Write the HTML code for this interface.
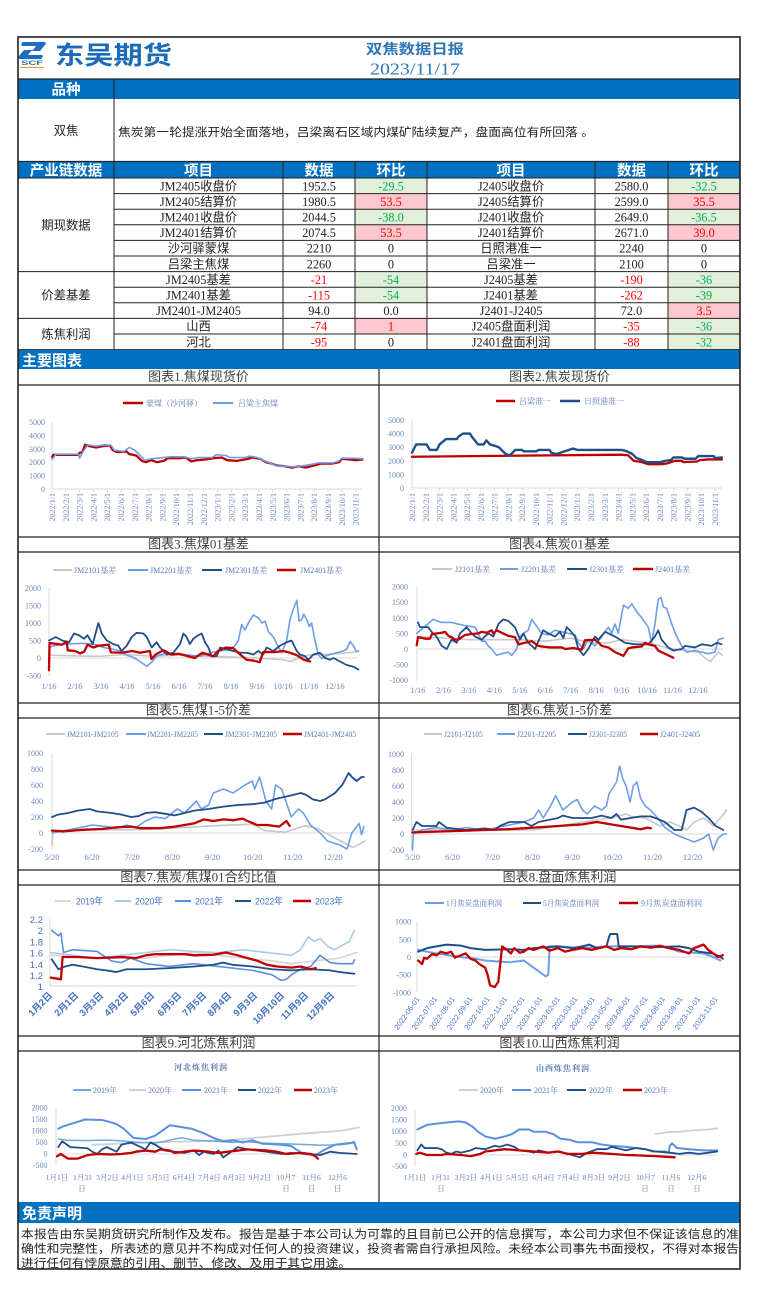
<!DOCTYPE html>
<html><head><meta charset="utf-8"><style>
html,body{margin:0;padding:0;background:#fff;}
body{width:757px;height:1303px;overflow:hidden;}
svg{display:block;}
.s{fill:none;vector-effect:non-scaling-stroke;stroke-linejoin:round;stroke-linecap:round;}
.r{stroke:#C00000;stroke-width:2.3}
.d{stroke:#1F4E89;stroke-width:1.8}
.l{stroke:#6D9EEB;stroke-width:1.6}
.g{stroke:#C8C8C8;stroke-width:1.6}
.p{stroke:#A9CBEB;stroke-width:1.6}
.m{stroke:#5B8FE0;stroke-width:1.6}
.t{font-family:"Liberation Serif","Noto Sans CJK SC",sans-serif;fill:#222;font-size:12.3px;text-anchor:middle}
.h{font-family:"Liberation Sans","Noto Sans CJK SC",sans-serif;fill:#fff;font-size:14.5px;font-weight:bold;text-anchor:middle}
.hl{font-family:"Liberation Sans","Noto Sans CJK SC",sans-serif;fill:#fff;font-size:15px;font-weight:bold}
.ax{font-family:"Liberation Serif",serif;font-size:8px;fill:#6A88BE}
.ae{font-family:"Liberation Serif",serif;font-size:8px;fill:#6A88BE;text-anchor:end}
.am{font-family:"Liberation Serif",serif;font-size:8.5px;fill:#6A88BE;text-anchor:middle}
.lg{font-family:"Liberation Serif","Noto Serif CJK SC",serif;font-size:8px;fill:#5A7BB5}
.lm{font-family:"Liberation Serif","Noto Serif CJK SC",serif;font-size:7.5px;fill:#5A7BB5;text-anchor:middle}
.ls{font-family:"Liberation Sans","Noto Sans CJK SC",sans-serif;font-size:9.5px;fill:#4472C4}
.ct{font-family:"Liberation Serif","Noto Sans CJK SC",sans-serif;font-size:13px;fill:#404040;text-anchor:middle}
.gr{fill:#00B050}.rd{fill:#FF0000}
</style></head><body>
<svg width="757" height="1303" viewBox="0 0 757 1303" xmlns="http://www.w3.org/2000/svg">
<rect x="0" y="0" width="757" height="1303" fill="#fff"/>

<!-- Header -->
<path d="M22 42 h22 q3 0 1 3 l-5 6 h-9 l-3 4 h13 q3 0 1 3 l-1 1 h-21 q-3 0 -1 -3 l5 -6 h9 l3 -4 h-13 q-3 0 -1 -3z" fill="#1E6FC2"/>
<text x="21" y="65" font-family="Liberation Sans,sans-serif" font-size="6.5" font-weight="bold" fill="#1E6FC2" textLength="22" lengthAdjust="spacingAndGlyphs">SCF</text>
<line x1="20" y1="67.5" x2="44" y2="67.5" stroke="#F0A030" stroke-width="1.3"/>
<text x="55" y="64" font-family="'Liberation Sans','Noto Sans CJK SC',sans-serif" font-size="25" font-weight="bold" fill="#1A6BB8" textLength="117" lengthAdjust="spacingAndGlyphs">东吴期货</text>
<text x="415" y="54" font-family="'Liberation Sans','Noto Sans CJK SC',sans-serif" font-size="14" font-weight="bold" fill="#2E75B6" text-anchor="middle" textLength="98" lengthAdjust="spacingAndGlyphs">双焦数据日报</text>
<text x="415" y="74.5" font-family="'Liberation Serif',serif" font-size="17" fill="#2E75B6" text-anchor="middle" textLength="90" lengthAdjust="spacingAndGlyphs">2023/11/17</text>

<rect x="18" y="79" width="722" height="20" fill="#0070C0"/>
<line x1="114" y1="79" x2="114" y2="161.5" stroke="#222" stroke-width="1"/>
<text class="h" x="66" y="94.5">品种</text>
<text class="t" x="66" y="135" font-size="12.7">双焦</text>
<text x="118" y="136" font-family="'Liberation Sans','Noto Sans CJK SC',sans-serif" font-size="11.5" fill="#222" textLength="476" lengthAdjust="spacingAndGlyphs">焦炭第一轮提涨开始全面落地，吕梁离石区域内煤矿陆续复产，盘面高位有所回落 。</text>
<line x1="18" y1="161.5" x2="740" y2="161.5" stroke="#222" stroke-width="1.2"/>

<!-- Table -->
<rect x="18" y="162" width="722" height="16" fill="#0070C0"/>
<g class="h" font-size="14">
<text x="66" y="175.5">产业链数据</text>
<text x="198.5" y="175.5">项目</text>
<text x="319" y="175.5">数据</text>
<text x="391" y="175.5">环比</text>
<text x="511" y="175.5">项目</text>
<text x="631.5" y="175.5">数据</text>
<text x="704" y="175.5">环比</text>
</g>
<!-- fills -->
<g>
<rect x="355" y="178" width="72" height="15.6" fill="#E2EFDA"/>
<rect x="355" y="193.6" width="72" height="15.6" fill="#FFC7CE"/>
<rect x="355" y="209.2" width="72" height="15.6" fill="#E2EFDA"/>
<rect x="355" y="224.8" width="72" height="15.6" fill="#FFC7CE"/>
<rect x="355" y="271.6" width="72" height="15.6" fill="#E2EFDA"/>
<rect x="355" y="287.2" width="72" height="15.6" fill="#E2EFDA"/>
<rect x="355" y="318.4" width="72" height="15.6" fill="#FFC7CE"/>
<rect x="668" y="178" width="72" height="15.6" fill="#E2EFDA"/>
<rect x="668" y="193.6" width="72" height="15.6" fill="#FFC7CE"/>
<rect x="668" y="209.2" width="72" height="15.6" fill="#E2EFDA"/>
<rect x="668" y="224.8" width="72" height="15.6" fill="#FFC7CE"/>
<rect x="668" y="271.6" width="72" height="15.6" fill="#E2EFDA"/>
<rect x="668" y="287.2" width="72" height="15.6" fill="#E2EFDA"/>
<rect x="668" y="302.8" width="72" height="15.6" fill="#FFC7CE"/>
<rect x="668" y="318.4" width="72" height="15.6" fill="#E2EFDA"/>
<rect x="668" y="334" width="72" height="15.6" fill="#E2EFDA"/>
</g>
<path d="M18 178H740M114 193.6H740M114 209.2H740M114 224.8H740M114 240.4H740M114 256H740M18 271.6H740M114 287.2H740M114 302.8H740M18 318.4H740M114 334H740M18 349.6H740M114 162V349.6M283 162V349.6M355 162V349.6M427 162V349.6M595 162V349.6M668 162V349.6" stroke="#222" stroke-width="1" fill="none"/>
<g class="t">
<text x="66" y="229.5">期现数据</text>
<text x="66" y="299.7">价差基差</text>
<text x="66" y="338.7">炼焦利润</text>

<text x="198.5" y="190.3">JM2405收盘价</text><text x="319" y="190.3">1952.5</text><text x="391" y="190.3" class="gr">-29.5</text>
<text x="511" y="190.3">J2405收盘价</text><text x="631.5" y="190.3">2580.0</text><text x="704" y="190.3" class="gr">-32.5</text>

<text x="198.5" y="205.9">JM2405结算价</text><text x="319" y="205.9">1980.5</text><text x="391" y="205.9" class="rd">53.5</text>
<text x="511" y="205.9">J2405结算价</text><text x="631.5" y="205.9">2599.0</text><text x="704" y="205.9" class="rd">35.5</text>

<text x="198.5" y="221.5">JM2401收盘价</text><text x="319" y="221.5">2044.5</text><text x="391" y="221.5" class="gr">-38.0</text>
<text x="511" y="221.5">J2401收盘价</text><text x="631.5" y="221.5">2649.0</text><text x="704" y="221.5" class="gr">-36.5</text>

<text x="198.5" y="237.1">JM2401结算价</text><text x="319" y="237.1">2074.5</text><text x="391" y="237.1" class="rd">53.5</text>
<text x="511" y="237.1">J2401结算价</text><text x="631.5" y="237.1">2671.0</text><text x="704" y="237.1" class="rd">39.0</text>

<text x="198.5" y="252.7">沙河驿蒙煤</text><text x="319" y="252.7">2210</text><text x="391" y="252.7">0</text>
<text x="511" y="252.7">日照港准一</text><text x="631.5" y="252.7">2240</text><text x="704" y="252.7">0</text>

<text x="198.5" y="268.3">吕梁主焦煤</text><text x="319" y="268.3">2260</text><text x="391" y="268.3">0</text>
<text x="511" y="268.3">吕梁准一</text><text x="631.5" y="268.3">2100</text><text x="704" y="268.3">0</text>

<text x="198.5" y="283.9">JM2405基差</text><text x="319" y="283.9" class="rd">-21</text><text x="391" y="283.9" class="gr">-54</text>
<text x="511" y="283.9">J2405基差</text><text x="631.5" y="283.9" class="rd">-190</text><text x="704" y="283.9" class="gr">-36</text>

<text x="198.5" y="299.5">JM2401基差</text><text x="319" y="299.5" class="rd">-115</text><text x="391" y="299.5" class="gr">-54</text>
<text x="511" y="299.5">J2401基差</text><text x="631.5" y="299.5" class="rd">-262</text><text x="704" y="299.5" class="gr">-39</text>

<text x="198.5" y="315.1">JM2401-JM2405</text><text x="319" y="315.1">94.0</text><text x="391" y="315.1">0.0</text>
<text x="511" y="315.1">J2401-J2405</text><text x="631.5" y="315.1">72.0</text><text x="704" y="315.1" class="rd">3.5</text>

<text x="198.5" y="330.7">山西</text><text x="319" y="330.7" class="rd">-74</text><text x="391" y="330.7" class="rd">1</text>
<text x="511" y="330.7">J2405盘面利润</text><text x="631.5" y="330.7" class="rd">-35</text><text x="704" y="330.7" class="gr">-36</text>

<text x="198.5" y="346.3">河北</text><text x="319" y="346.3" class="rd">-95</text><text x="391" y="346.3">0</text>
<text x="511" y="346.3">J2401盘面利润</text><text x="631.5" y="346.3" class="rd">-88</text><text x="704" y="346.3" class="gr">-32</text>
</g>

<!-- Section bar -->
<rect x="18" y="350" width="722" height="19" fill="#0070C0"/>
<text class="hl" x="22" y="365.5">主要图表</text>

<!-- chart grid lines -->
<path d="M18 385H740M18 537H740M18 552H740M18 703H740M18 718H740M18 870H740M18 885H740M18 1036H740M18 1051H740M379 369V1202" stroke="#222" stroke-width="1.2" fill="none"/>

<g class="ct">
<text x="198.5" y="381">图表1.焦煤现货价</text><text x="559.5" y="381">图表2.焦炭现货价</text>
<text x="198.5" y="548.5">图表3.焦煤01基差</text><text x="559.5" y="548.5">图表4.焦炭01基差</text>
<text x="198.5" y="714.5">图表5.焦煤1-5价差</text><text x="559.5" y="714.5">图表6.焦炭1-5价差</text>
<text x="198.5" y="881.5">图表7.焦炭/焦煤01合约比值</text><text x="559.5" y="881.5">图表8.盘面炼焦利润</text>
<text x="198.5" y="1047.5">图表9.河北炼焦利润</text><text x="559.5" y="1047.5">图表10.山西炼焦利润</text>
</g>

<!-- axis lines -->
<path d="M52 422V489H362M412 420V488H722M49 588V676M49 658H358M417 587V681M417 649H723M52 753V849M52 833H366M411.5 754V850M411.5 834H726M50 919V986H357M417 922V992M417 957H723M56 1108V1166M56 1154H359M415 1109V1167M415 1155H717" stroke="#D9D9D9" stroke-width="1" fill="none"/>
<path d="M52 489v3m13.8-3v3m13.8-3v3m13.8-3v3m13.8-3v3m13.8-3v3m13.8-3v3m13.8-3v3m13.8-3v3m13.8-3v3m13.8-3v3m13.8-3v3m13.8-3v3m13.8-3v3m13.8-3v3m13.8-3v3m13.8-3v3m13.8-3v3m13.8-3v3m13.8-3v3m13.8-3v3m13.8-3v3m13.8-3v3M412 488v3m13.77-3v3m13.77-3v3m13.77-3v3m13.77-3v3m13.77-3v3m13.77-3v3m13.77-3v3m13.77-3v3m13.77-3v3m13.77-3v3m13.77-3v3m13.77-3v3m13.77-3v3m13.77-3v3m13.77-3v3m13.77-3v3m13.77-3v3m13.77-3v3m13.77-3v3m13.77-3v3m13.77-3v3m13.77-3v3" stroke="#D9D9D9" stroke-width="1" fill="none"/>

<!-- ===== Chart 1 ===== -->
<line x1="123" y1="403" x2="143" y2="403" stroke="#C00000" stroke-width="2.5"/>
<text class="lg" x="146" y="406">蒙煤（沙河驿）</text>
<line x1="213" y1="403" x2="233" y2="403" stroke="#6D9EEB" stroke-width="2"/>
<text class="lg" x="238" y="406">吕梁主焦煤</text>
<g class="ae"><text x="45" y="425">5000</text><text x="45" y="438.4">4000</text><text x="45" y="451.8">3000</text><text x="45" y="465.2">2000</text><text x="45" y="478.6">1000</text><text x="45" y="492">0</text></g>
<g class="ae">
<text transform="translate(55,493) rotate(-90)">2022/1/1</text>
<text transform="translate(68.8,493) rotate(-90)">2022/2/1</text>
<text transform="translate(82.6,493) rotate(-90)">2022/3/1</text>
<text transform="translate(96.4,493) rotate(-90)">2022/4/1</text>
<text transform="translate(110.2,493) rotate(-90)">2022/5/1</text>
<text transform="translate(124,493) rotate(-90)">2022/6/1</text>
<text transform="translate(137.8,493) rotate(-90)">2022/7/1</text>
<text transform="translate(151.6,493) rotate(-90)">2022/8/1</text>
<text transform="translate(165.4,493) rotate(-90)">2022/9/1</text>
<text transform="translate(179.2,493) rotate(-90)">2022/10/1</text>
<text transform="translate(193,493) rotate(-90)">2022/11/1</text>
<text transform="translate(206.8,493) rotate(-90)">2022/12/1</text>
<text transform="translate(220.6,493) rotate(-90)">2023/1/1</text>
<text transform="translate(234.4,493) rotate(-90)">2023/2/1</text>
<text transform="translate(248.2,493) rotate(-90)">2023/3/1</text>
<text transform="translate(262,493) rotate(-90)">2023/4/1</text>
<text transform="translate(275.8,493) rotate(-90)">2023/5/1</text>
<text transform="translate(289.6,493) rotate(-90)">2023/6/1</text>
<text transform="translate(303.4,493) rotate(-90)">2023/7/1</text>
<text transform="translate(317.2,493) rotate(-90)">2023/8/1</text>
<text transform="translate(331,493) rotate(-90)">2023/9/1</text>
<text transform="translate(344.8,493) rotate(-90)">2023/10/1</text>
<text transform="translate(358.6,493) rotate(-90)">2023/11/1</text>
</g>
<g transform="matrix(13.8 0 0 -0.0134 52 489)">
<polyline class="s r" points="0,2400 0.1,2550 1.9,2550 2.0,2700 2.2,2750 2.4,3300 2.7,3200 3.2,3100 3.7,3200 4.2,3250 4.4,2900 4.7,2750 5.4,2800 5.6,2600 6.1,2500 6.5,2100 6.8,2000 7.2,2150 7.6,2000 8.1,2100 8.4,2300 9.2,2300 9.7,2350 10.1,2050 10.5,2150 11.1,2200 11.7,2300 12.3,2350 12.7,2150 13.4,2100 14.2,2250 14.5,2350 15.1,2250 15.5,2000 15.9,1900 16.3,1750 16.9,1700 17.4,1600 17.9,1700 18.4,1600 19.0,1750 19.5,1900 20.3,1900 20.8,2000 21.0,2250 21.6,2200 22.0,2150 22.5,2200"/>
<polyline class="s l" points="0,2200 0.3,2600 1.9,2600 2.0,2300 2.2,2700 2.6,3300 3.2,3200 3.8,3300 4.3,3250 4.5,2900 5.2,2800 5.6,3100 6.0,2900 6.3,2600 6.7,2150 7.2,2250 7.6,2300 8.6,2400 9.6,2400 10.1,2250 10.6,2350 11.6,2350 11.9,2550 12.6,2500 12.9,2350 14.0,2350 14.3,2450 14.9,2350 15.4,2100 15.9,1900 16.3,1700 17.0,1700 17.6,1650 18.3,1750 18.9,1850 19.3,1950 20.4,1950 20.8,2100 21.0,2300 21.8,2300 22.5,2250"/>
</g>

<!-- ===== Chart 2 ===== -->
<line x1="496" y1="401" x2="515" y2="401" stroke="#C00000" stroke-width="2.5"/>
<text class="lg" x="519" y="404">吕梁准一</text>
<line x1="560" y1="401" x2="580" y2="401" stroke="#1F4E89" stroke-width="2.5"/>
<text class="lg" x="584" y="404">日照港准一</text>
<g class="ae"><text x="404" y="423">5000</text><text x="404" y="436.6">4000</text><text x="404" y="450.2">3000</text><text x="404" y="463.8">2000</text><text x="404" y="477.4">1000</text><text x="404" y="491">0</text></g>
<g class="ae">
<text transform="translate(415,493) rotate(-90)">2022/1/1</text>
<text transform="translate(428.8,493) rotate(-90)">2022/2/1</text>
<text transform="translate(442.5,493) rotate(-90)">2022/3/1</text>
<text transform="translate(456.3,493) rotate(-90)">2022/4/1</text>
<text transform="translate(470.1,493) rotate(-90)">2022/5/1</text>
<text transform="translate(483.9,493) rotate(-90)">2022/6/1</text>
<text transform="translate(497.6,493) rotate(-90)">2022/7/1</text>
<text transform="translate(511.4,493) rotate(-90)">2022/8/1</text>
<text transform="translate(525.2,493) rotate(-90)">2022/9/1</text>
<text transform="translate(538.9,493) rotate(-90)">2022/10/1</text>
<text transform="translate(552.7,493) rotate(-90)">2022/11/1</text>
<text transform="translate(566.5,493) rotate(-90)">2022/12/1</text>
<text transform="translate(580.2,493) rotate(-90)">2023/1/1</text>
<text transform="translate(594,493) rotate(-90)">2023/2/1</text>
<text transform="translate(607.8,493) rotate(-90)">2023/3/1</text>
<text transform="translate(621.6,493) rotate(-90)">2023/4/1</text>
<text transform="translate(635.3,493) rotate(-90)">2023/5/1</text>
<text transform="translate(649.1,493) rotate(-90)">2023/6/1</text>
<text transform="translate(662.9,493) rotate(-90)">2023/7/1</text>
<text transform="translate(676.6,493) rotate(-90)">2023/8/1</text>
<text transform="translate(690.4,493) rotate(-90)">2023/9/1</text>
<text transform="translate(704.2,493) rotate(-90)">2023/10/1</text>
<text transform="translate(717.9,493) rotate(-90)">2023/11/1</text>
</g>
<g transform="matrix(13.77 0 0 -0.0136 412 488)">
<polyline class="s r" points="0,2300 15.25,2450 15.7,2400 16.1,2000 16.7,1900 17.15,1750 18.1,1750 18.5,1800 19.1,2000 19.6,2000 19.7,1900 20.7,1950 20.9,2050 21.5,2100 22.5,2100"/>
<polyline class="s d" style="stroke-width:2.4" points="0,2600 0.3,3200 1.06,3200 1.3,2800 1.8,2800 2.0,3200 2.47,3600 3.25,3600 3.4,3800 3.7,4000 4.2,4000 4.4,3700 4.8,3200 5.2,3200 5.4,3500 5.67,3200 6.03,3100 6.3,3000 6.8,2500 7.1,2400 7.5,2800 8.0,2800 8.1,2700 9.05,2700 9.2,2800 10.0,2800 10.1,2600 10.5,2500 10.8,2600 11.4,2800 11.7,2900 12.0,2800 15.25,2800 15.6,2700 16.0,2500 16.3,2200 16.6,2100 17.05,1900 18.0,1900 18.4,2000 18.8,2050 19.0,2250 19.6,2250 19.8,2150 20.6,2150 20.8,2350 21.9,2350 22.0,2200 22.5,2250"/>
</g>

<!-- ===== Chart 3 ===== -->
<line x1="53" y1="570" x2="72" y2="570" stroke="#C8C8C8" stroke-width="2"/>
<text class="lg" x="74" y="573">JM2101基差</text>
<line x1="128" y1="570" x2="148" y2="570" stroke="#6D9EEB" stroke-width="2"/>
<text class="lg" x="150" y="573">JM2201基差</text>
<line x1="202" y1="570" x2="222" y2="570" stroke="#1F4E89" stroke-width="2"/>
<text class="lg" x="225" y="573">JM2301基差</text>
<line x1="277" y1="570" x2="296" y2="570" stroke="#C00000" stroke-width="2.5"/>
<text class="lg" x="300" y="573">JM2401基差</text>
<g class="ae"><text x="41" y="591">2000</text><text x="41" y="608.5">1500</text><text x="41" y="626">1000</text><text x="41" y="643.5">500</text><text x="41" y="661">0</text><text x="41" y="678.5">-500</text></g>
<g class="am"><text x="49" y="689">1/16</text><text x="75" y="689">2/16</text><text x="101" y="689">3/16</text><text x="127" y="689">4/16</text><text x="153" y="689">5/16</text><text x="179" y="689">6/16</text><text x="205" y="689">7/16</text><text x="231" y="689">8/16</text><text x="257" y="689">9/16</text><text x="283" y="689">10/16</text><text x="309" y="689">11/16</text><text x="335" y="689">12/16</text></g>
<g transform="matrix(26 0 0 -0.035 49 658)">
<polyline class="s g" points="0,80 1,60 2,50 3,100 4,50 5,80 6,50 7,30 8,0 9,-50 9.3,-100 9.6,0 10,80 10.5,100 11,120 11.5,150 11.9,180"/>
<polyline class="s l" points="0,300 0.17,350 0.68,400 1.32,420 1.83,380 2.09,300 2.47,250 2.73,200 2.99,80 3.24,20 3.5,-100 3.76,-240 3.95,-120 4.14,50 4.53,150 5.17,100 5.81,50 6.19,150 6.58,200 6.96,250 7.15,350 7.28,500 7.41,950 7.54,800 7.67,1000 7.86,1230 8.05,1150 8.18,1000 8.31,1050 8.44,750 8.63,600 8.76,400 8.95,150 9.14,500 9.27,1100 9.4,1400 9.53,1650 9.62,1050 9.72,1100 9.8,1250 9.91,1100 10.01,900 10.1,1000 10.23,500 10.36,100 10.49,-20 10.62,50 10.81,100 11.06,150 11.32,200 11.45,250 11.58,470 11.71,350 11.81,200 11.9,200"/>
<polyline class="s d" points="0,500 0.26,600 0.51,500 0.77,450 0.96,700 1.15,650 1.35,550 1.48,650 1.68,400 1.9,1000 2.03,700 2.22,500 2.47,400 2.67,350 2.79,200 2.99,350 3.18,600 3.37,720 3.63,700 3.76,600 3.95,300 4.14,450 4.27,300 4.53,100 4.78,150 5.04,400 5.17,700 5.29,600 5.42,400 5.55,550 5.74,650 5.87,700 6.0,450 6.13,300 6.26,50 6.45,50 6.58,300 6.83,250 7.09,200 7.35,150 7.6,150 7.86,100 8.05,200 8.24,100 8.37,300 8.63,200 8.88,350 9.14,450 9.33,500 9.53,200 9.65,100 9.85,50 9.97,-50 10.17,100 10.42,150 10.62,0 10.81,-50 10.94,0 11.19,-100 11.45,-200 11.71,-250 11.9,-330"/>
<polyline class="s r" points="0,-350 0.02,430 0.3,400 0.5,380 0.68,470 0.72,220 1.0,200 1.2,130 1.35,180 1.48,380 1.7,300 1.9,350 2.3,380 2.38,160 2.8,150 3.2,200 3.5,150 3.88,200 3.94,-30 4.1,100 4.4,220 4.7,100 5.0,120 5.3,60 5.6,0 5.9,150 6.1,100 6.32,50 6.5,200 6.8,300 7.09,280 7.35,100 7.6,-50 7.9,-80 8.1,-120 8.24,170 8.7,170 9.0,200 9.27,150 9.53,80 9.8,-50 10.04,-100"/>
</g>

<!-- ===== Chart 4 ===== -->
<line x1="432" y1="569" x2="452" y2="569" stroke="#C8C8C8" stroke-width="2"/>
<text class="lg" x="455" y="572">J2101基差</text>
<line x1="500" y1="569" x2="518" y2="569" stroke="#6D9EEB" stroke-width="2"/>
<text class="lg" x="521" y="572">J2201基差</text>
<line x1="567" y1="569" x2="587" y2="569" stroke="#1F4E89" stroke-width="2"/>
<text class="lg" x="589" y="572">J2301基差</text>
<line x1="633" y1="569" x2="653" y2="569" stroke="#C00000" stroke-width="2.5"/>
<text class="lg" x="655" y="572">J2401基差</text>
<g class="ae"><text x="408" y="589.6">2000</text><text x="408" y="605.2">1500</text><text x="408" y="620.8">1000</text><text x="408" y="636.4">500</text><text x="408" y="652">0</text><text x="408" y="667.6">-500</text><text x="408" y="683.2">-1000</text></g>
<g class="am"><text x="418" y="693">1/16</text><text x="443.5" y="693">2/16</text><text x="468.9" y="693">3/16</text><text x="494.4" y="693">4/16</text><text x="519.8" y="693">5/16</text><text x="545.3" y="693">6/16</text><text x="570.7" y="693">7/16</text><text x="596.2" y="693">8/16</text><text x="621.6" y="693">9/16</text><text x="647.1" y="693">10/16</text><text x="672.5" y="693">11/16</text><text x="698" y="693">12/16</text></g>
<g transform="matrix(25.45 0 0 -0.0312 418 649)">
<polyline class="s g" points="-0.05,400 1,350 2,300 3,300 4,300 5,250 6,350 6.5,250 7,200 7.5,200 8,300 9,200 10,0 10.5,-50 11,-100 11.3,-300 11.5,-400 11.7,-200 11.8,-100 11.95,-200"/>
<polyline class="s l" points="-0.05,500 0.6,950 0.93,850 1.32,850 1.58,800 1.85,750 2.24,700 2.37,500 2.5,250 2.63,250 2.76,100 2.89,0 3.09,-200 3.29,-150 3.55,-100 3.68,-200 3.88,0 4.01,400 4.14,500 4.33,600 4.47,950 4.6,800 4.86,500 5.12,450 5.38,600 5.65,550 5.91,500 6.17,450 6.3,200 6.5,0 6.69,300 6.95,100 7.22,400 7.48,700 7.61,500 7.74,800 7.87,500 8.07,1400 8.26,1300 8.4,1450 8.59,1200 8.79,1000 9.05,700 9.18,200 9.31,800 9.44,1600 9.55,1650 9.64,1350 9.77,1300 9.97,800 10.16,400 10.36,100 10.55,-100 10.88,-50 11.41,-150 11.67,-100 11.8,300 12.0,350"/>
<polyline class="s d" points="0,850 0.08,700 0.4,700 0.53,550 0.73,400 0.93,100 1.13,0 1.32,300 1.52,200 1.65,500 1.91,700 2.11,500 2.24,400 2.5,300 2.76,500 2.96,400 3.16,800 3.35,950 3.55,900 3.81,700 4.01,300 4.14,500 4.33,200 4.6,0 4.92,600 5.12,500 5.38,400 5.58,550 5.71,350 5.84,700 5.97,600 6.17,400 6.3,0 6.5,-200 6.69,0 6.95,400 7.09,300 7.35,550 7.74,400 8.13,200 8.53,150 9.05,150 9.31,400 9.44,600 9.57,300 9.83,50 10.03,-50 10.36,0 10.49,100 10.88,50 11.15,150 11.54,100 11.74,200 11.93,150"/>
<polyline class="s r" points="-0.05,120 0,380 0.3,330 0.47,330 0.55,480 0.93,520 1.06,550 1.2,420 1.32,380 1.45,300 1.58,300 1.85,450 2.1,480 2.37,500 2.5,550 2.7,520 2.89,600 2.96,500 3.09,600 3.29,520 3.55,420 3.81,380 3.94,150 4.2,200 4.47,250 4.73,100 4.86,80 5.2,50 5.65,50 5.78,0 6.1,30 6.43,-20 6.56,280 6.95,300 7.1,200 7.22,100 7.48,50 7.74,-100 8.07,-220 8.26,20 8.4,50 8.79,80 8.92,200 9.05,150 9.31,100 9.44,-50 9.83,-200 10.03,-280"/>
</g>

<!-- ===== Chart 5 ===== -->
<line x1="46" y1="734" x2="65" y2="734" stroke="#C8C8C8" stroke-width="2"/>
<text class="lg" x="66.5" y="737" textLength="52" lengthAdjust="spacingAndGlyphs">JM2101-JM2105</text>
<line x1="126" y1="734" x2="146" y2="734" stroke="#6D9EEB" stroke-width="2"/>
<text class="lg" x="147" y="737" textLength="51" lengthAdjust="spacingAndGlyphs">JM2201-JM2205</text>
<line x1="204" y1="734" x2="223" y2="734" stroke="#1F4E89" stroke-width="2"/>
<text class="lg" x="225" y="737" textLength="52" lengthAdjust="spacingAndGlyphs">JM2301-JM2305</text>
<line x1="283" y1="734" x2="302" y2="734" stroke="#C00000" stroke-width="2.5"/>
<text class="lg" x="304" y="737" textLength="52" lengthAdjust="spacingAndGlyphs">JM2401-JM2405</text>
<g class="ae"><text x="43" y="756">1000</text><text x="43" y="772">800</text><text x="43" y="788">600</text><text x="43" y="804">400</text><text x="43" y="820">200</text><text x="43" y="836">0</text><text x="43" y="852">-200</text></g>
<g class="am"><text x="52" y="860">5/20</text><text x="92.1" y="860">6/20</text><text x="132.3" y="860">7/20</text><text x="172.4" y="860">8/20</text><text x="212.6" y="860">9/20</text><text x="252.7" y="860">10/20</text><text x="292.8" y="860">11/20</text><text x="333" y="860">12/20</text></g>
<g transform="matrix(40.14 0 0 -0.08 52 833)">
<polyline class="s g" points="0,-150 0.03,30 1,40 2,40 3,60 4,90 5,110 5.3,30 5.8,10 6.3,90 6.6,60 7.0,-50 7.2,-100 7.5,-180 7.8,-100"/>
<polyline class="s l" points="0,0 0.52,50 1.0,100 1.36,80 1.6,60 1.85,100 2.09,70 2.33,150 2.57,200 2.82,180 3.12,300 3.3,250 3.6,400 3.72,300 3.9,350 4.02,500 4.27,550 4.51,500 4.81,600 4.99,650 5.05,550 5.17,700 5.33,400 5.47,300 5.57,600 5.72,550 5.86,350 5.96,200 6.14,300 6.26,250 6.44,100 6.68,0 6.86,-100 7.17,-150 7.35,-200 7.47,0 7.65,120 7.71,-20 7.77,80"/>
<polyline class="s d" points="0,200 0.15,230 0.4,250 0.64,280 0.94,300 1.12,270 1.49,250 1.73,230 1.97,200 2.15,210 2.33,250 2.57,260 2.82,240 3.06,220 3.3,250 3.54,280 3.9,300 4.27,330 4.63,350 4.99,360 5.29,380 5.6,430 5.96,470 6.2,500 6.32,480 6.5,420 6.68,400 6.8,420 7.05,500 7.23,600 7.39,750 7.47,700 7.59,650 7.71,700 7.77,700"/>
<polyline class="s r" points="0,30 0.28,20 0.76,40 1.24,50 1.6,70 1.97,80 2.21,60 2.7,60 3.06,80 3.3,100 3.54,120 3.78,170 4.02,150 4.27,170 4.51,160 4.75,180 4.87,150 5.11,100 5.36,100 5.66,80 5.84,150 5.92,90"/>
</g>

<!-- ===== Chart 6 ===== -->
<line x1="424" y1="734" x2="442" y2="734" stroke="#C8C8C8" stroke-width="2"/>
<text class="lg" x="444" y="737" textLength="39" lengthAdjust="spacingAndGlyphs">J2101-J2105</text>
<line x1="497" y1="734" x2="515" y2="734" stroke="#6D9EEB" stroke-width="2"/>
<text class="lg" x="517" y="737" textLength="39" lengthAdjust="spacingAndGlyphs">J2201-J2205</text>
<line x1="568" y1="734" x2="587" y2="734" stroke="#1F4E89" stroke-width="2"/>
<text class="lg" x="589" y="737" textLength="38" lengthAdjust="spacingAndGlyphs">J2301-J2305</text>
<line x1="640" y1="734" x2="658" y2="734" stroke="#C00000" stroke-width="2.5"/>
<text class="lg" x="660" y="737" textLength="40" lengthAdjust="spacingAndGlyphs">J2401-J2405</text>
<g class="ae"><text x="404" y="757">1000</text><text x="404" y="773">800</text><text x="404" y="789">600</text><text x="404" y="805">400</text><text x="404" y="821">200</text><text x="404" y="837">0</text><text x="404" y="853">-200</text></g>
<g class="am"><text x="412.5" y="860">5/20</text><text x="452.5" y="860">6/20</text><text x="492.5" y="860">7/20</text><text x="532.5" y="860">8/20</text><text x="572.5" y="860">9/20</text><text x="612.5" y="860">10/20</text><text x="652.5" y="860">11/20</text><text x="692.5" y="860">12/20</text></g>
<g transform="matrix(40 0 0 -0.08 412.5 834)">
<polyline class="s g" points="0,50 3.03,50 3.64,100 4.25,150 4.97,200 5.34,250 5.46,220 5.82,200 6.19,100 6.43,150 6.67,100 6.85,50 7.04,150 7.28,200 7.52,100 7.7,200 7.85,300"/>
<polyline class="s l" points="0,-200 0.02,0 0.24,50 0.6,80 0.97,50 1.33,80 1.81,50 2.3,100 2.79,150 3.03,200 3.15,300 3.27,200 3.45,350 3.58,480 3.76,300 4.0,400 4.12,430 4.25,300 4.37,250 4.55,350 4.73,300 4.85,350 4.91,500 5.04,600 5.1,650 5.18,850 5.25,700 5.34,600 5.44,400 5.52,600 5.61,650 5.7,450 5.82,350 5.95,300 6.13,200 6.31,80 6.55,0 6.79,-50 7.04,-100 7.28,-50 7.4,0 7.52,-200 7.64,-50 7.77,0 7.85,0"/>
<polyline class="s d" points="0,50 0.1,150 0.24,100 0.6,100 0.66,150 0.85,80 1.33,50 1.81,70 2.06,50 2.18,100 2.42,150 2.79,150 2.97,100 3.15,150 3.64,200 3.76,230 4.0,200 4.48,200 4.73,230 4.97,200 5.1,250 5.21,180 5.46,200 5.7,220 5.95,220 6.07,200 6.31,150 6.55,50 6.73,50 6.85,300 7.04,330 7.22,280 7.4,200 7.58,100 7.77,50"/>
<polyline class="s r" points="0,20 0.6,30 1.2,40 1.81,50 2.42,60 3.03,80 3.64,100 4.25,120 4.61,150 4.85,130 5.21,100 5.46,80 5.7,60 5.88,80 5.96,70"/>
</g>

<!-- ===== Chart 7 ===== -->
<line x1="55" y1="901" x2="71" y2="901" stroke="#D9D9D9" stroke-width="2"/>
<text class="ls" x="76" y="904.5" textLength="27" lengthAdjust="spacingAndGlyphs">2019年</text>
<line x1="115" y1="901" x2="131" y2="901" stroke="#A9CBEB" stroke-width="2"/>
<text class="ls" x="135" y="904.5" textLength="28" lengthAdjust="spacingAndGlyphs">2020年</text>
<line x1="175" y1="901" x2="191" y2="901" stroke="#5B8FE0" stroke-width="2"/>
<text class="ls" x="195" y="904.5" textLength="28" lengthAdjust="spacingAndGlyphs">2021年</text>
<line x1="235" y1="901" x2="251" y2="901" stroke="#1F4E89" stroke-width="2"/>
<text class="ls" x="255" y="904.5" textLength="28" lengthAdjust="spacingAndGlyphs">2022年</text>
<line x1="293" y1="901" x2="311" y2="901" stroke="#C00000" stroke-width="2.5"/>
<text class="ls" x="315" y="904.5" textLength="28" lengthAdjust="spacingAndGlyphs">2023年</text>
<g class="ls" text-anchor="end" font-size="9"><text x="43" y="923">2.2</text><text x="43" y="934.2">2</text><text x="43" y="945.4">1.8</text><text x="43" y="956.6">1.6</text><text x="43" y="967.8">1.4</text><text x="43" y="979">1.2</text><text x="43" y="990.2">1</text></g>
<g class="ls" text-anchor="end" font-size="9.5" font-weight="bold" fill="#3B64AD">
<text transform="translate(53,996) rotate(-45)">1月2日</text>
<text transform="translate(79,996) rotate(-45)">2月1日</text>
<text transform="translate(104,996) rotate(-45)">3月3日</text>
<text transform="translate(129,996) rotate(-45)">4月2日</text>
<text transform="translate(155,996) rotate(-45)">5月6日</text>
<text transform="translate(182,996) rotate(-45)">6月5日</text>
<text transform="translate(207,996) rotate(-45)">7月5日</text>
<text transform="translate(232,996) rotate(-45)">8月4日</text>
<text transform="translate(258,996) rotate(-45)">9月3日</text>
<text transform="translate(285,996) rotate(-45)">10月10日</text>
<text transform="translate(309,996) rotate(-45)">11月9日</text>
<text transform="translate(335,996) rotate(-45)">12月9日</text>
</g>
<g transform="matrix(0.841 0 0 -55.8 50 1041.8)">
<polyline class="s" style="stroke:#D9D9D9;stroke-width:1.8" points="1,1.55 56,1.5 114,1.5 142,1.55 171,1.6 200,1.55 229,1.5 264,1.45 287,1.4 316,1.45 344,1.5 365,1.6"/>
<polyline class="s p" points="1,1.6 27,1.55 56,1.5 85,1.55 114,1.6 142,1.65 171,1.62 200,1.6 229,1.65 258,1.6 287,1.55 298,1.65 307,1.88 314,1.8 321,1.85 331,1.7 338,1.65 356,1.8 362,2.0"/>
<polyline class="s m" points="2,2.0 10,1.9 13,1.95 16,1.6 27,1.65 56,1.62 73,1.45 85,1.42 96,1.5 114,1.4 142,1.35 171,1.4 200,1.35 229,1.3 241,1.28 264,1.2 275,1.1 281,1.12 287,1.2 298,1.3 310,1.35 321,1.55 333,1.42 344,1.4 360,1.4 362,1.47"/>
<polyline class="s d" points="2,1.48 10,1.3 18,1.35 27,1.38 39,1.35 56,1.3 67,1.28 79,1.25 91,1.3 114,1.3 142,1.32 171,1.35 194,1.38 206,1.42 217,1.38 241,1.35 264,1.3 287,1.28 310,1.3 333,1.28 344,1.25 362,1.22"/>
<polyline class="s r" points="1,1.15 13,1.12 15,1.52 33,1.52 56,1.5 85,1.52 102,1.5 114,1.55 125,1.57 160,1.57 171,1.55 194,1.56 209,1.6 223,1.55 235,1.5 247,1.45 258,1.38 270,1.35 287,1.33 298,1.35 310,1.3 316,1.32"/>
</g>

<!-- ===== Chart 8 ===== -->
<line x1="425" y1="903" x2="444" y2="903" stroke="#6D9EEB" stroke-width="2"/>
<text class="lg" x="446" y="906" textLength="56" lengthAdjust="spacingAndGlyphs">1月焦炭盘面利润</text>
<line x1="523" y1="903" x2="541" y2="903" stroke="#1F4E89" stroke-width="2"/>
<text class="lg" x="543" y="906" textLength="56" lengthAdjust="spacingAndGlyphs">5月焦炭盘面利润</text>
<line x1="619" y1="903" x2="638" y2="903" stroke="#C00000" stroke-width="2.5"/>
<text class="lg" x="641" y="906" textLength="61" lengthAdjust="spacingAndGlyphs">9月焦炭盘面利润</text>
<g class="ae" font-size="7.5"><text x="411" y="924.6">1000</text><text x="411" y="942.3">500</text><text x="411" y="960">0</text><text x="411" y="977.7">-500</text><text x="411" y="995.4">-1000</text></g>
<g font-family="Liberation Sans,sans-serif" font-size="7.5" fill="#4472C4" text-anchor="end">
<text transform="translate(420,999) rotate(-55)">2022-06-01</text>
<text transform="translate(437.5,999) rotate(-55)">2022-07-01</text>
<text transform="translate(455.1,999) rotate(-55)">2022-08-01</text>
<text transform="translate(472.6,999) rotate(-55)">2022-09-01</text>
<text transform="translate(490.1,999) rotate(-55)">2022-10-01</text>
<text transform="translate(507.7,999) rotate(-55)">2022-11-01</text>
<text transform="translate(525.2,999) rotate(-55)">2022-12-01</text>
<text transform="translate(542.7,999) rotate(-55)">2023-01-01</text>
<text transform="translate(560.2,999) rotate(-55)">2023-02-01</text>
<text transform="translate(577.8,999) rotate(-55)">2023-03-01</text>
<text transform="translate(595.3,999) rotate(-55)">2023-04-01</text>
<text transform="translate(612.8,999) rotate(-55)">2023-05-01</text>
<text transform="translate(630.4,999) rotate(-55)">2023-06-01</text>
<text transform="translate(647.9,999) rotate(-55)">2023-07-01</text>
<text transform="translate(665.4,999) rotate(-55)">2023-08-01</text>
<text transform="translate(682.9,999) rotate(-55)">2023-09-01</text>
<text transform="translate(700.5,999) rotate(-55)">2023-10-01</text>
<text transform="translate(718,999) rotate(-55)">2023-11-01</text>
</g>
<g transform="matrix(17.53 0 0 -0.0354 418 957)">
<polyline class="s l" style="stroke-width:2" points="0.01,200 1.06,100 2.45,0 3.28,-50 3.83,-100 5.21,-150 6.04,-100 6.32,-200 6.87,-400 7.29,-550 7.43,-500 7.51,300 7.98,300 9.37,250 10.75,300 12.13,300 13.52,320 14.35,250 14.9,150 16.29,100 16.84,0 17.25,-100"/>
<polyline class="s d" style="stroke-width:2" points="0.01,150 0.51,250 1.06,300 1.62,350 2.45,320 3.0,250 3.83,200 5.21,220 6.04,200 6.6,250 7.98,300 8.81,250 9.37,300 9.78,350 10.2,250 10.75,300 10.89,550 10.97,650 11.36,650 11.45,300 12.13,300 13.52,280 14.9,300 15.46,250 16.01,150 16.84,100 17.25,0 17.39,-50"/>
<polyline class="s r" points="0.01,-100 0.23,-200 0.35,-20 0.51,-50 0.8,80 1.06,50 1.3,150 1.62,100 1.89,150 2.1,-20 2.45,50 2.72,100 3.0,-50 3.28,-100 3.5,-200 3.83,-300 3.97,-500 4.11,-800 4.38,-850 4.58,-700 4.8,300 5.08,200 5.3,100 5.49,250 5.8,120 6.04,150 6.3,250 6.6,200 7.15,300 7.5,180 7.98,250 8.4,150 8.81,200 9.37,250 9.9,200 10.75,300 11.2,200 11.58,250 12.2,220 12.69,300 13.3,260 13.8,320 14.3,250 14.9,200 15.46,100 15.73,250 16.01,300 16.29,350 16.56,200 16.84,100 17.12,0 17.39,50"/>
</g>

<!-- ===== Chart 9 ===== -->
<text class="lg" x="201" y="1070" text-anchor="middle" letter-spacing="1" font-weight="bold">河北炼焦利润</text>
<line x1="73" y1="1090" x2="91" y2="1090" stroke="#6FA8DC" stroke-width="2"/>
<text class="lg" x="93" y="1093" font-size="7.3">2019年</text>
<line x1="129" y1="1090" x2="146" y2="1090" stroke="#D0D0D0" stroke-width="2"/>
<text class="lg" x="148" y="1093" font-size="7.3">2020年</text>
<line x1="182" y1="1090" x2="201" y2="1090" stroke="#5B8FE0" stroke-width="2"/>
<text class="lg" x="204" y="1093" font-size="7.3">2021年</text>
<line x1="238" y1="1090" x2="256" y2="1090" stroke="#1F4E89" stroke-width="2"/>
<text class="lg" x="258" y="1093" font-size="7.3">2022年</text>
<line x1="294" y1="1090" x2="312" y2="1090" stroke="#C00000" stroke-width="2.5"/>
<text class="lg" x="314" y="1093" font-size="7.3">2023年</text>
<g class="ae" font-size="7.5"><text x="47.5" y="1110.5">2000</text><text x="47.5" y="1122">1500</text><text x="47.5" y="1133.5">1000</text><text x="47.5" y="1145">500</text><text x="47.5" y="1156.5">0</text><text x="47.5" y="1168">-500</text></g>
<g class="lm">
<text x="57" y="1180">1月1日</text><text x="82.5" y="1180">1月31</text><text x="82" y="1191">日</text>
<text x="107.5" y="1180">3月2日</text><text x="132.5" y="1180">4月1日</text><text x="158.5" y="1180">5月5日</text>
<text x="184" y="1180">6月4日</text><text x="209.5" y="1180">7月4日</text><text x="234.5" y="1180">8月3日</text>
<text x="260" y="1180">9月2日</text><text x="286" y="1180">10月7</text><text x="286" y="1191">日</text>
<text x="311.5" y="1180">11月6</text><text x="311.5" y="1191">日</text><text x="337.5" y="1180">12月6</text><text x="337.5" y="1191">日</text>
</g>
<g transform="matrix(0.827 0 0 -0.023 57 1154)">
<polyline class="s" style="stroke:#D0D0D0;stroke-width:1.8" points="42.6,400 107.1,500 165.8,550 206.9,600 253.8,750 300.8,900 341.9,1000 365.3,1150"/>
<polyline class="s" style="stroke:#6FA8DC;stroke-width:1.5" points="1.5,650 13.3,600 36.7,580 48.5,600 66.1,600 83.7,550 101.3,500 118.9,480 130.6,550 142.3,650 151.2,700 165.8,600 195.2,550 212.8,500 224.5,550 248,480 271.4,450 294.9,420 306.7,400 318.4,380 341.9,400 353.6,450 359.5,550"/>
<polyline class="s m" style="stroke-width:2" points="1.5,1100 7.4,1200 16.2,1300 25,1400 33.8,1500 54.3,1480 63.1,1400 72,1300 80.7,1100 86.6,900 92.5,700 107.1,650 118.9,800 130.6,1100 136.5,1250 145.3,1200 162.9,1100 177.6,900 189.3,700 201,550 212.8,600 224.5,500 236.2,600 248,450 271.4,400 283.2,350 289,200 297.9,0 312.5,-50 324.3,200 336,400 359.5,500 362.4,200"/>
<polyline class="s d" points="1.5,300 6.2,550 16.2,300 36.7,250 42.6,100 48.5,0 54.3,200 60.2,300 72,100 77.8,400 89.5,500 101.3,300 107.1,200 113,500 118.9,400 130.6,150 142.3,100 154.1,50 165.8,150 171.7,-50 177.6,100 189.3,0 195.2,150 201,-150 206.9,0 218.6,300 230.4,200 242.1,150 253.8,100 271.4,0 283.2,50 306.7,0 318.4,-50 330.1,100 341.9,50 362.4,0"/>
<polyline class="s r" points="0,-100 4.5,0 13.3,-200 25,-200 36.7,-50 48.5,0 66.1,-20 77.8,0 89.5,50 95.4,100 107.1,150 118.9,100 124.7,200 136.5,150 142.3,50 154.1,100 165.8,150 183.4,100 195.2,50 206.9,100 218.6,150 230.4,200 253.8,150 265.6,100 277.3,0 294.9,50 306.7,0 312.5,-100 315.5,-200"/>
</g>

<!-- ===== Chart 10 ===== -->
<text class="lg" x="563" y="1071" text-anchor="middle" letter-spacing="1" font-weight="bold">山西炼焦利润</text>
<line x1="459" y1="1090" x2="478" y2="1090" stroke="#D0D0D0" stroke-width="2"/>
<text class="lg" x="480" y="1093" font-size="7.3">2020年</text>
<line x1="512" y1="1090" x2="531" y2="1090" stroke="#5B8FE0" stroke-width="2"/>
<text class="lg" x="534" y="1093" font-size="7.3">2021年</text>
<line x1="567" y1="1090" x2="586" y2="1090" stroke="#1F4E89" stroke-width="2"/>
<text class="lg" x="589" y="1093" font-size="7.3">2022年</text>
<line x1="623" y1="1090" x2="642" y2="1090" stroke="#C00000" stroke-width="2.5"/>
<text class="lg" x="644" y="1093" font-size="7.3">2023年</text>
<g class="ae" font-size="7.5"><text x="407" y="1111">2000</text><text x="407" y="1122.6">1500</text><text x="407" y="1134.2">1000</text><text x="407" y="1145.8">500</text><text x="407" y="1157.4">0</text><text x="407" y="1169">-500</text></g>
<g class="lm">
<text x="415" y="1180">1月1日</text><text x="440.5" y="1180">1月31</text><text x="441" y="1191">日</text>
<text x="466" y="1180">3月2日</text><text x="491.5" y="1180">4月1日</text><text x="517.5" y="1180">5月5日</text>
<text x="543.5" y="1180">6月4日</text><text x="568.5" y="1180">7月4日</text><text x="594" y="1180">8月3日</text>
<text x="619.5" y="1180">9月2日</text><text x="645.5" y="1180">10月7</text><text x="645" y="1191">日</text>
<text x="671" y="1180">11月6</text><text x="671" y="1191">日</text><text x="697" y="1180">12月6</text><text x="697" y="1191">日</text>
</g>
<g transform="matrix(0.832 0 0 -0.0232 415 1155)">
<polyline class="s" style="stroke:#D0D0D0;stroke-width:1.8" points="288.7,900 297.4,950 306.2,1000 317.8,1000 329.5,1050 352.8,1100 363.3,1150"/>
<polyline class="s m" style="stroke-width:2" points="2.8,1100 8.7,1200 14.5,1300 26.2,1350 37.8,1400 52.4,1450 61.2,1400 69.9,1200 75.8,1000 84.5,800 96.2,700 107.8,800 116.6,900 125.3,1100 137,1100 142.8,1000 157.4,1000 166.2,900 174.9,700 186.6,650 195.3,550 212.8,550 224.5,450 236.2,400 253.7,350 265.3,300 277,250 285.8,150 300.3,150 305,100 306.2,400 309.1,500 314.9,300 329.5,250 347,200 363.3,200"/>
<polyline class="s d" points="2.8,200 7.5,450 11.6,300 26.2,300 32,250 37.8,100 43.7,50 49.5,150 55.3,100 67,200 72.8,300 84.5,250 96.2,400 102,350 110.7,450 119.5,350 125.3,200 137,150 142.8,100 148.7,200 160.3,100 172,150 183.7,50 198.2,-100 207,100 218.7,250 230.4,250 236.2,350 253.7,200 265.3,300 277,250 288.7,150 306.2,100 317.8,50 329.5,100 341.2,50 352.8,100 363.3,150"/>
<polyline class="s r" points="1.7,50 5.8,100 14.5,0 32,0 37.8,50 55.3,0 67,-50 78.7,50 84.5,150 96.2,200 107.8,250 125.3,200 142.8,150 160.3,100 172,150 183.7,50 201.2,50 212.8,100 236.2,50 253.7,0 271.2,-20 288.7,-50 312,-100"/>
</g>

<!-- Disclaimer -->
<rect x="18" y="1202" width="722" height="21" fill="#0070C0"/>
<text class="hl" x="22" y="1218.5">免责声明</text>
<g font-family="'Liberation Sans','Noto Sans CJK SC',sans-serif" font-size="11.5" fill="#222">
<text x="21" y="1238" textLength="718" lengthAdjust="spacingAndGlyphs">本报告由东吴期货研究所制作及发布。报告是基于本公司认为可靠的且目前已公开的信息撰写，本公司力求但不保证该信息的准</text>
<text x="21" y="1252.5" textLength="718" lengthAdjust="spacingAndGlyphs">确性和完整性，所表述的意见并不构成对任何人的投资建议，投资者需自行承担风险。未经本公司事先书面授权，不得对本报告</text>
<text x="21" y="1267" textLength="330" lengthAdjust="spacingAndGlyphs">进行任何有悖原意的引用、删节、修改、及用于其它用途。</text>
</g>

<!-- outer frame -->
<line x1="18" y1="79" x2="740" y2="79" stroke="#222" stroke-width="1.2"/>
<rect x="18" y="37" width="722" height="1232" fill="none" stroke="#222" stroke-width="1.6"/>
</svg>
</body></html>
